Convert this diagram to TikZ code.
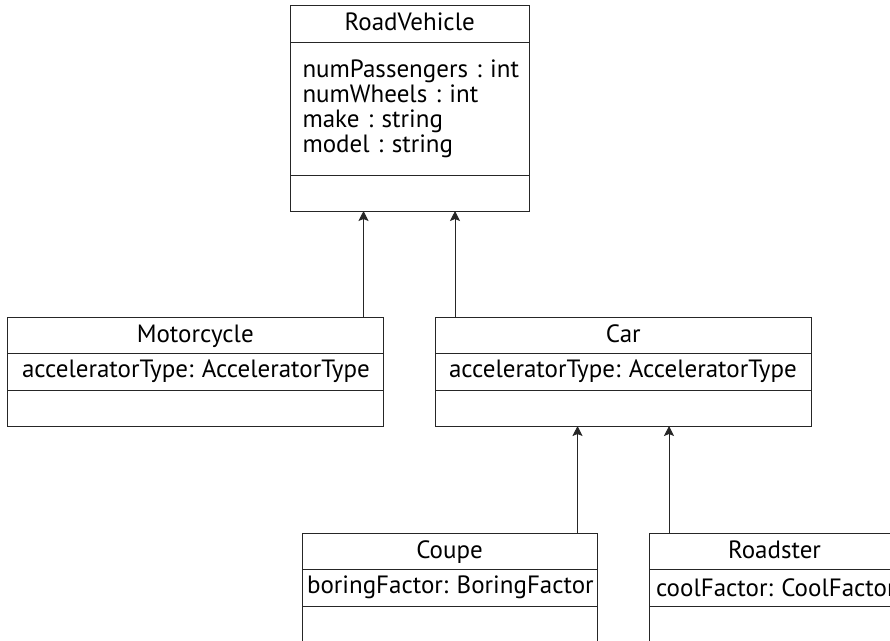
\documentclass[tikz,border=0pt]{standalone}
\usepackage{fontspec}
\setmainfont{PT Sans}
\usetikzlibrary{arrows.meta}
\begin{document}
\frenchspacing
\hbadness=10000 \hfuzz=200pt
\begin{tikzpicture}[x=1pt,y=-1pt,
  font=\fontsize{25}{25}\selectfont,
  cls/.style={draw=black!85, line width=1pt, inner ysep=0pt, outer sep=0pt, anchor=north west},
  ttl/.style={cls, align=center, text height=19pt, text depth=5pt},
  conn/.style={draw=black!85, line width=1pt, -{Stealth[length=10pt,width=10pt,inset=2pt]}}]
\useasboundingbox (0,0) rectangle (890,640);
\clip (0,0) rectangle (890,640);
% RoadVehicle
\node[ttl, minimum width=238.5pt, minimum height=37pt] (rvt) at (290.5,5) {RoadVehicle};
\node[cls, minimum height=133pt, inner xsep=12pt, text width=214.5pt, align=left] (rva) at (290.5,42) {\mbox{numPassengers : int}\\\mbox{numWheels : int}\\\mbox{make : string}\\\mbox{model : string}};
\node[cls, minimum width=238.5pt, minimum height=36pt] (rvo) at (290.5,175) {};
% Motorcycle
\node[ttl, minimum width=376.5pt, minimum height=36pt] (mct) at (7,317) {Motorcycle};
\node[cls, minimum height=37pt, inner xsep=15pt, text width=346.5pt, align=left] (mca) at (7,353) {\mbox{acceleratorType: AcceleratorType}};
\node[cls, minimum width=376.5pt, minimum height=36pt] (mco) at (7,390) {};
% Car
\node[ttl, minimum width=376.5pt, minimum height=36pt] (cat) at (435,317) {Car};
\node[cls, minimum height=37pt, inner xsep=14pt, text width=348.5pt, align=left] (caa) at (435,353) {\mbox{acceleratorType: AcceleratorType}};
\node[cls, minimum width=376.5pt, minimum height=36pt] (cao) at (435,390) {};
% Coupe
\node[ttl, minimum width=295pt, minimum height=36pt] (cot) at (302,533) {Coupe};
\node[cls, minimum height=37pt, inner xsep=5pt, text width=285pt, align=left] (coa) at (302,569) {\mbox{boringFactor: BoringFactor}};
\node[cls, minimum width=295pt, minimum height=40pt] (coo) at (302,606) {};
% Roadster
\node[ttl, minimum width=251pt, minimum height=36pt] (rot) at (649,533) {Roadster};
\node[cls, minimum height=37pt, inner xsep=7pt, text width=237pt, align=left] (roa) at (649,569) {\mbox{coolFactor: CoolFactor}};
\node[cls, minimum width=251pt, minimum height=40pt] (roo) at (649,606) {};
% connectors
\draw[conn] (mct.north -| 363.5,0) -- (rvo.south -| 363.5,0);
\draw[conn] (cat.north -| 455,0) -- (rvo.south -| 455,0);
\draw[conn] (cot.north -| 577.5,0) -- (cao.south -| 577.5,0);
\draw[conn] (rot.north -| 669,0) -- (cao.south -| 669,0);
\end{tikzpicture}
\end{document}
